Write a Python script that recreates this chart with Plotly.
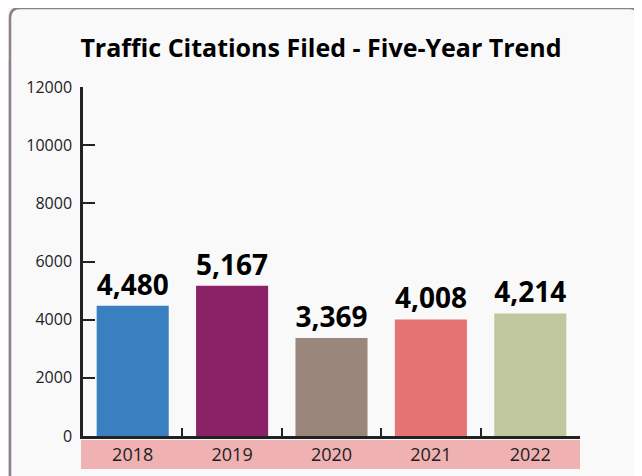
import plotly.graph_objects as go

years = ["2018", "2019", "2020", "2021", "2022"]
citations = [4480, 5167, 3369, 4008, 4214]
bar_colors = ["#3a7fc0", "#8b2268", "#9b867b", "#e57373", "#c0c79e"]
y_ticks = [0, 2000, 4000, 6000, 8000, 10000, 12000]

# the page places the figure 8px in from the top-left corner (body margin)
O = 8
W, H = 642 - O, 476 - O
# plot area in page pixels: x 83..580, y 87..436
L, R, T, B = 83 - O, W - (580 - O), 87 - O, H - (436 - O)

fig = go.Figure()
fig.add_trace(go.Bar(
    x=years, y=citations,
    marker=dict(color=bar_colors, line=dict(width=0)),
    text=[f"{v:,}" for v in citations],
    textposition="outside",
    textfont=dict(family="Open Sans", size=28, color="#000000", weight="bold"),
    cliponaxis=False,
    hoverinfo="skip",
))

def px(x):
    return (x - O - L) / (W - L - R)
def py(y):
    return (H - B - (y - O)) / (H - T - B)

shapes = []
shapes.append(dict(type="rect", xref="paper", yref="paper", x0=px(0), x1=px(W + 2 * O),
                   y0=py(H + 2 * O), y1=py(0), fillcolor="#e4e9ef", line=dict(width=0), layer="below"))
shapes.append(dict(type="rect", xref="paper", yref="paper", x0=px(0), x1=px(W + 2 * O),
                   y0=py(60), y1=py(0), fillcolor="#fbf7ec", line=dict(width=0), layer="below"))
# panel (rounded rect)
x0, x1, y0, y1, r = 10, 639, 8, 500, 10
path = (f"M {px(x0+r)},{py(y0)} L {px(x1-r)},{py(y0)} Q {px(x1)},{py(y0)} {px(x1)},{py(y0+r)} "
        f"L {px(x1)},{py(y1)} L {px(x0)},{py(y1)} L {px(x0)},{py(y0+r)} Q {px(x0)},{py(y0)} {px(x0+r)},{py(y0)} Z")
shapes.append(dict(type="path", xref="paper", yref="paper", path=path,
                   fillcolor="#f9f9f9", line=dict(color="#8e7f8c", width=2.5), layer="below"))
# pink label band below x axis
shapes.append(dict(type="rect", xref="paper", yref="paper", x0=px(81), x1=px(580),
                   y0=py(469), y1=py(440), fillcolor="#efb1b1", line=dict(width=0), layer="below"))

fig.update_layout(
    width=W, height=H,
    margin=dict(l=L, r=R, t=T, b=B, pad=0, autoexpand=False),
    paper_bgcolor="#e4e9ef",
    plot_bgcolor="rgba(0,0,0,0)",
    showlegend=False,
    bargap=0.275,
    shapes=shapes,
    title=dict(text="<b>Traffic Citations Filed - Five-Year Trend</b>",
               x=(321 - O) / W, xanchor="center", xref="container",
               y=1 - (48 - O) / H, yanchor="middle", yref="container", automargin=False,
               font=dict(family="Open Sans", size=25, color="#000000")),
    font=dict(family="Open Sans", color="#222222"),
)
fig.update_xaxes(
    type="category", range=[-0.5, 4.5], automargin=False,
    showline=True, linecolor="#222222", linewidth=2.5,
    ticks="inside", tickson="boundaries", ticklen=8, tickwidth=2, tickcolor="#222222",
    showgrid=False, zeroline=False,
    tickfont=dict(family="Open Sans", size=18, color="#222222"),
    ticklabelstandoff=1,
)
fig.update_yaxes(
    range=[0, 12000], tickvals=y_ticks, ticktext=[str(v) for v in y_ticks], automargin=False,
    showline=True, linecolor="#222222", linewidth=2.5,
    ticks="inside", ticklen=12, tickwidth=2, tickcolor="#222222",
    showgrid=False, zeroline=False,
    tickfont=dict(family="Open Sans", size=16, color="#222222"),
    ticklabelstandoff=5,
)

fig.write_html("out.html")
